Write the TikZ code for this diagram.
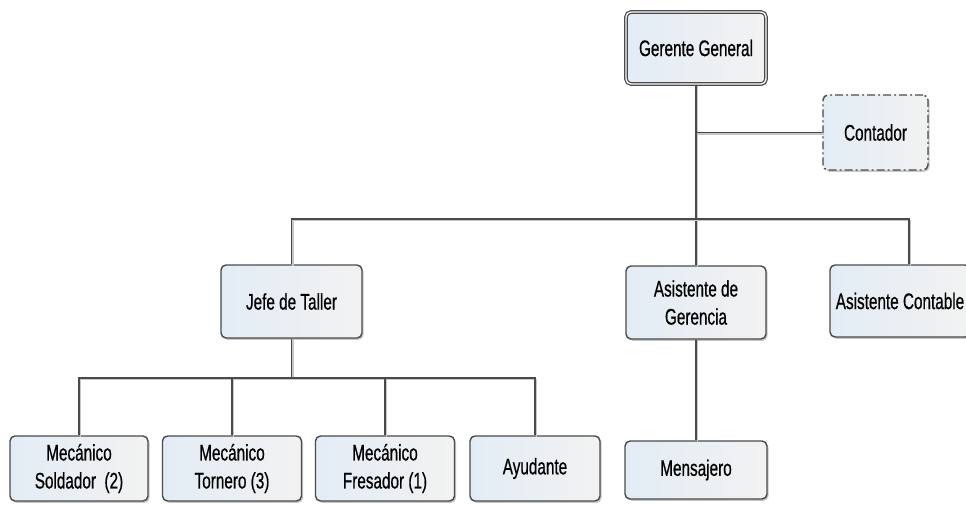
\documentclass[tikz,border=0pt]{standalone}
\usepackage{fontspec}
\newfontfamily\orgfont[FakeStretch=0.68,FakeBold=0.6]{Liberation Sans}
\usetikzlibrary{shadows,calc}
\definecolor{boxline}{HTML}{4A4A4A}
\definecolor{linkcol}{HTML}{4A4A4A}
\definecolor{boxleft}{HTML}{E3ECF5}
\definecolor{boxright}{HTML}{F2F2F2}
\begin{document}
\begin{tikzpicture}[x=1pt,y=-1pt,
  orgbox/.style={rectangle, rounded corners=5pt, draw=boxline, line width=1.4pt,
    left color=boxleft, right color=boxright, align=center, inner sep=0pt,
    font=\orgfont\fontsize{22.5}{28}\selectfont,
    drop shadow={shadow xshift=1.6pt, shadow yshift=-1.8pt, fill=black!40, opacity=.55}},
  headbox/.style={orgbox, line width=1.2pt, double=white, double distance=1.3pt},
  advbox/.style={orgbox, dash pattern=on 8pt off 3pt on 2pt off 3pt},
  link/.style={draw=linkcol, line width=1.6pt,
    preaction={draw=black!22, line width=1.6pt, transform canvas={xshift=1.4pt, yshift=-1.6pt}}}]
\useasboundingbox (0,0) rectangle (966,504);

% top level
\node[headbox, minimum width=140, minimum height=72] (gg) at (696,48) {Gerente General};
\node[advbox, minimum width=105, minimum height=75] (cont) at (875.5,132.5) {Contador};

% second level
\node[orgbox, minimum width=141, minimum height=73] (jefe) at (291.5,301.5) {Jefe de Taller};
\node[orgbox, minimum width=140, minimum height=73] (asg) at (696,302.5) {Asistente de\\Gerencia};
\node[orgbox, minimum width=140, minimum height=72] (asc) at (900,301) {Asistente Contable};

% third level
\node[orgbox, minimum width=138, minimum height=65] (sold) at (79,468.5) {Mecánico\\Soldador\ \ (2)};
\node[orgbox, minimum width=139, minimum height=65] (torn) at (232,468.5) {Mecánico\\Tornero (3)};
\node[orgbox, minimum width=139, minimum height=65] (fres) at (385,468.5) {Mecánico\\Fresador (1)};
\node[orgbox, minimum width=130, minimum height=65] (ayud) at (535,468.5) {Ayudante};
\node[orgbox, minimum width=142, minimum height=58] (mens) at (696,470) {Mensajero};

% bus coordinates
\coordinate (mainbus) at (696,219);
\coordinate (lowbus) at (291.5,378);
\coordinate (ascin) at ($(asc.north)+(9,0)$);

% connectors
\draw[link] (gg.south) -- (asg.north);
\draw[link] (gg.south |- cont.west) -- (cont.west);
\draw[link] (jefe.north) -- (jefe.north |- mainbus) -- (ascin |- mainbus) -- (ascin);
\draw[link] (jefe.south) -- (lowbus);
\draw[link] (sold.north) -- (sold.north |- lowbus) -- (ayud.north |- lowbus) -- (ayud.north);
\draw[link] (torn.north) -- (torn.north |- lowbus);
\draw[link] (fres.north) -- (fres.north |- lowbus);
\draw[link] (asg.south) -- (mens.north);
\end{tikzpicture}
\end{document}
